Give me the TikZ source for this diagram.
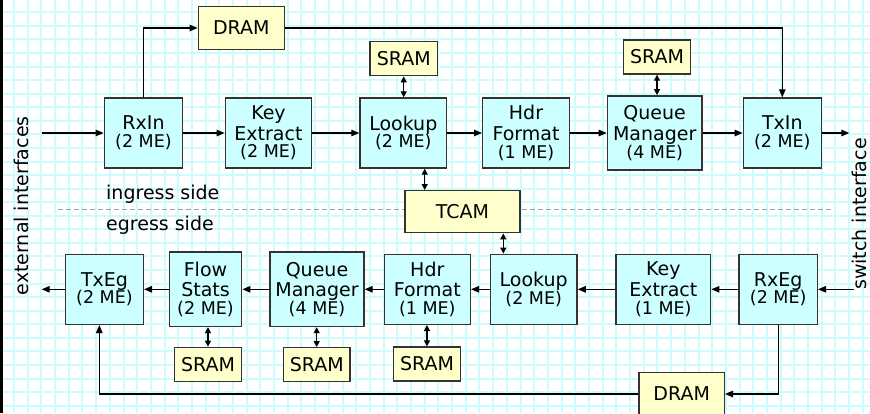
\documentclass[tikz,border=0pt]{standalone}
\usepackage{fontspec}
\setmainfont{DejaVu Sans}
\usetikzlibrary{arrows.meta}

\definecolor{gridc}{HTML}{CCFCFC}
\definecolor{boxc}{HTML}{CCFFFF}
\definecolor{memc}{HTML}{FFFFCC}
\definecolor{bdr}{HTML}{333333}
\definecolor{sepc}{HTML}{A0A0A0}

% micro-engine count as a smaller last line
\newcommand\mecnt[1]{\\[-2.8pt]{\fontsize{17.5}{20.5}\selectfont(#1~ME)}}

\begin{document}
\begin{tikzpicture}[x=1pt,y=-1pt,
  stage/.style={draw=bdr,line width=1.4pt,fill=boxc,align=center,inner sep=0pt,
    minimum height=70pt,font=\fontsize{19}{20.5}\selectfont},
  mem/.style={draw=bdr,line width=1.4pt,fill=memc,inner sep=0pt,
    font=\fontsize{19}{22}\selectfont},
  flow/.style={line width=1.2pt,-{Triangle[length=8pt,width=6.5pt]}},
  bidir/.style={line width=1.2pt,{Triangle[length=6pt,width=6pt]}-{Triangle[length=6pt,width=6pt]}},
  caption/.style={font=\fontsize{19}{22}\selectfont,inner sep=0pt}]

\useasboundingbox (0,0) rectangle (870,413);
\fill[white] (0,0) rectangle (870,413);

% background grid
\foreach \k in {0,...,62}
  \draw[gridc,line width=2pt] ({14+13.69*\k},0) -- ({14+13.69*\k},413);
\foreach \k in {0,...,29}
  \draw[gridc,line width=2pt] (0,{12.3+13.565*\k}) -- (870,{12.3+13.565*\k});
\draw[black,line width=3pt] (1.5,0) -- (1.5,413);

% ingress / egress separator
\coordinate (sepL) at (58.3,209.3);
\coordinate (sepR) at (831.7,209.3);
\draw[sepc,line width=1.3pt,dash pattern=on 5pt off 3pt] (sepL) -- (sepR);

% ingress pipeline
\node[stage,minimum width=78.4pt] (rxin) at (143.5,133) {RxIn\mecnt{2}};
\node[stage,minimum width=86.4pt] (keyi) at (268.5,133) {Key\\Extract\mecnt{2}};
\node[stage,minimum width=86.7pt] (looki) at (403.3,133) {Lookup\mecnt{2}};
\node[stage,minimum width=86.6pt] (hdri) at (526,133) {Hdr\\Format\mecnt{1}};
\node[stage,minimum width=94.7pt,minimum height=74.3pt] (qmi) at (654.7,133) {Queue\\Manager\mecnt{4}};
\node[stage,minimum width=78pt] (txin) at (782.3,133) {TxIn\mecnt{2}};

% egress pipeline
\node[stage,minimum width=77.6pt] (txeg) at (104.5,289.3) {TxEg\mecnt{2}};
\node[stage,minimum width=72.4pt,minimum height=74.4pt] (fse) at (205.5,289.3) {Flow\\Stats\mecnt{2}};
\node[stage,minimum width=94pt,minimum height=74.4pt] (qme) at (317,289.3) {Queue\\Manager\mecnt{4}};
\node[stage,minimum width=86pt] (hdre) at (427.3,289.3) {Hdr\\Format\mecnt{1}};
\node[stage,minimum width=86.7pt] (looke) at (533.7,289.3) {Lookup\mecnt{2}};
\node[stage,minimum width=94.7pt] (keye) at (663.3,289.3) {Key\\Extract\mecnt{1}};
\node[stage,minimum width=78.3pt] (rxeg) at (778.2,289.3) {RxEg\mecnt{2}};

% memories
\node[mem,minimum width=86pt,minimum height=42.6pt] (dramt) at (241.3,28) {DRAM};
\node[mem,minimum width=67.3pt,minimum height=34pt] (srlk) at (403.7,58.7) {SRAM};
\node[mem,minimum width=67.4pt,minimum height=34pt] (srqm) at (657,57) {SRAM};
\node[mem,minimum width=115pt,minimum height=42pt] (tcam) at (462.5,211.7) {TCAM};
\node[mem,minimum width=67.4pt,minimum height=34.4pt] (srfs) at (208,364.5) {SRAM};
\node[mem,minimum width=66.7pt,minimum height=34pt] (srqe) at (316.7,364.7) {SRAM};
\node[mem,minimum width=67.4pt,minimum height=34pt] (srhe) at (427,364) {SRAM};
\node[mem,minimum width=85.3pt,minimum height=42.7pt] (dramb) at (681.7,394) {DRAM};

% side captions
\node[caption,anchor=base west] (ingl) at (106,199) {ingress side};
\node[caption,anchor=base west] (egl) at (106,230) {egress side};
\node[caption,rotate=90,anchor=base] (extl) at (28.3,205.8) {external interfaces};
\node[caption,rotate=90,anchor=base] (swl) at (866.5,214) {switch interface};

% ingress data path
\coordinate (inI) at (41.7,133);
\coordinate (outI) at (849.3,133);
\draw[flow] (inI) -- (rxin.west);
\draw[flow] (rxin.east) -- (keyi.west);
\draw[flow] (keyi.east) -- (looki.west);
\draw[flow] (looki.east) -- (hdri.west);
\draw[flow] (hdri.east) -- (qmi.west);
\draw[flow] (qmi.east) -- (txin.west);
\draw[flow] (txin.east) -- (outI);
\draw[flow] (rxin.north) |- (dramt.west);
\draw[flow] (dramt.east) -| (txin.north);

% egress data path
\coordinate (inE) at (854,289.3);
\coordinate (outE) at (41.7,289.3);
\draw[flow] (inE) -- (rxeg.east);
\draw[flow] (rxeg.west) -- (keye.east);
\draw[flow] (keye.west) -- (looke.east);
\draw[flow] (looke.west) -- (hdre.east);
\draw[flow] (hdre.west) -- (qme.east);
\draw[flow] (qme.west) -- (fse.east);
\draw[flow] (fse.west) -- (txeg.east);
\draw[flow] (txeg.west) -- (outE);
\draw[flow] (rxeg.south) |- (dramb.east);
\draw[flow] (dramb.west) -| ([xshift=-5.2pt]txeg.south);

% memory accesses
\coordinate (ltx) at (424.7,0);
\coordinate (tex) at (503.3,0);
\draw[bidir] (srlk.south) -- (srlk.south |- looki.north);
\draw[bidir] (srqm.south) -- (srqm.south |- qmi.north);
\draw[bidir] (looki.south -| ltx) -- (tcam.north -| ltx);
\draw[bidir] (tcam.south -| tex) -- (looke.north -| tex);
\draw[bidir] (fse.south -| srfs.north) -- (srfs.north);
\draw[bidir] (qme.south -| srqe.north) -- (srqe.north);
\draw[bidir] (hdre.south -| srhe.north) -- (srhe.north);
\end{tikzpicture}
\end{document}
